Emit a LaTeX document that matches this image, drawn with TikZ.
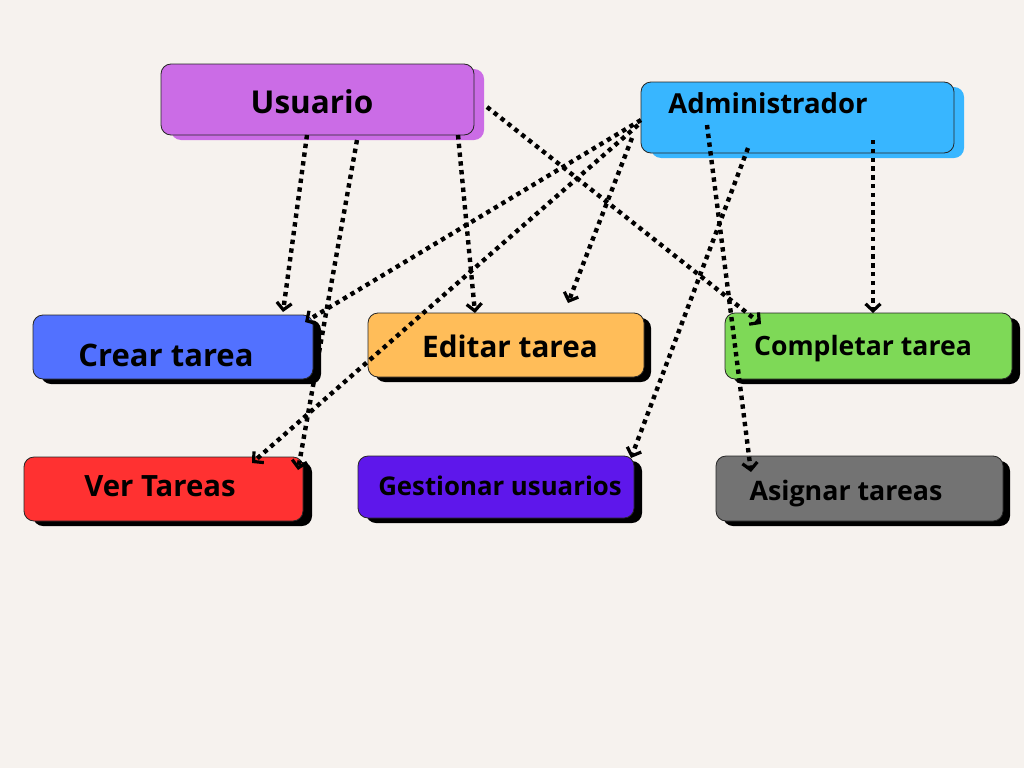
\documentclass[tikz,border=0pt]{standalone}
\usepackage{fontspec}
\setmainfont{Open Sans}
\usetikzlibrary{arrows.meta,shadows}
\definecolor{bg}{HTML}{F6F2EE}
\definecolor{cU}{HTML}{CB6CE6}
\definecolor{cA}{HTML}{38B6FF}
\definecolor{cC}{HTML}{5271FF}
\definecolor{cE}{HTML}{FFBD59}
\definecolor{cK}{HTML}{7ED957}
\definecolor{cV}{HTML}{FF3131}
\definecolor{cG}{HTML}{5E17EB}
\definecolor{cS}{HTML}{737373}
\tikzset{
  box/.style={rectangle, rounded corners=10pt, draw=black!85, line width=0.8pt, inner sep=0pt},
  shad/.style 2 args={general shadow={shadow xshift=#1, shadow yshift=-5pt, fill=#2}},
  lbl/.style={inner sep=0pt, font=\bfseries, text=black},
  conn/.style={line width=4.4pt, dash pattern=on 4.4pt off 4.4pt, -{Straight Barb[length=7pt,width=15pt,line width=3.2pt]}},
}
\begin{document}
\begin{tikzpicture}[x=1pt,y=-1pt]
\fill[bg] (0,0) rectangle (1024,768);
\useasboundingbox (0,0) rectangle (1024,768);

\node[box, fill=cU, shad={10pt}{cU}, minimum width=313pt, minimum height=71pt] (usuario) at (317.5,99.5) {};
\node[box, fill=cA, shad={10pt}{cA}, minimum width=313pt, minimum height=71pt] (admin) at (797.5,117.5) {};
\node[box, fill=cC, shad={8pt}{black}, minimum width=280pt, minimum height=64pt] (crear) at (173,347) {};
\node[box, fill=cE, shad={7pt}{black}, minimum width=276pt, minimum height=64pt] (editar) at (506,345) {};
\node[box, fill=cK, shad={8pt}{black}, minimum width=287pt, minimum height=66pt] (completar) at (868.5,346) {};
\node[box, fill=cV, shad={9pt}{black}, minimum width=279pt, minimum height=64pt] (ver) at (163.5,489) {};
\node[box, fill=cG, shad={8pt}{black}, minimum width=276pt, minimum height=62pt] (gestionar) at (496,487) {};
\node[box, fill=cS, shad={7pt}{black}, minimum width=287pt, minimum height=65pt] (asignar) at (859.5,488.5) {};

\node[lbl, font=\fontsize{31.5}{32}\selectfont\bfseries] (tU) at (312,102) {Usuario};
\node[lbl, font=\fontsize{27.5}{28}\selectfont\bfseries] (tA) at (768,103) {Administrador};
\node[lbl, font=\fontsize{31}{32}\selectfont\bfseries] (tC) at (166,355) {Crear tarea};
\node[lbl, font=\fontsize{29.7}{30}\selectfont\bfseries] (tE) at (510,346) {Editar tarea};
\node[lbl, font=\fontsize{26.6}{27}\selectfont\bfseries] (tK) at (863,349) {Completar tarea};
\node[lbl, font=\fontsize{29.3}{30}\selectfont\bfseries] (tV) at (160,486) {Ver Tareas};
\node[lbl, font=\fontsize{25.8}{26}\selectfont\bfseries] (tG) at (500,486) {Gestionar usuarios};
\node[lbl, font=\fontsize{26.8}{27}\selectfont\bfseries] (tS) at (846,494) {Asignar tareas};

\coordinate (u1) at (307,135);
\coordinate (u2) at (357,140);
\coordinate (u3) at (458,135);
\coordinate (u4) at (487,107);
\coordinate (a1) at (641,120);
\coordinate (a2) at (638,125);
\coordinate (a3) at (632,138);
\coordinate (a4) at (707,125);
\coordinate (a5) at (748,148);
\coordinate (a6) at (873,140);
\coordinate (e1) at (283,312);
\coordinate (e2) at (298,470);
\coordinate (e3) at (475,313);
\coordinate (e4) at (761,324);
\coordinate (e5) at (305,322);
\coordinate (e6) at (252,463);
\coordinate (e7) at (568,303);
\coordinate (e8) at (751,472);
\coordinate (e9) at (631,458);
\coordinate (e10) at (873,313);

\draw[conn] (u1) -- (e1);
\draw[conn] (u2) -- (e2);
\draw[conn] (u3) -- (e3);
\draw[conn] (u4) -- (e4);
\draw[conn] (a1) -- (e5);
\draw[conn] (a2) -- (e6);
\draw[conn] (a3) -- (e7);
\draw[conn] (a4) -- (e8);
\draw[conn] (a5) -- (e9);
\draw[conn] (a6) -- (e10);
\end{tikzpicture}
\end{document}
